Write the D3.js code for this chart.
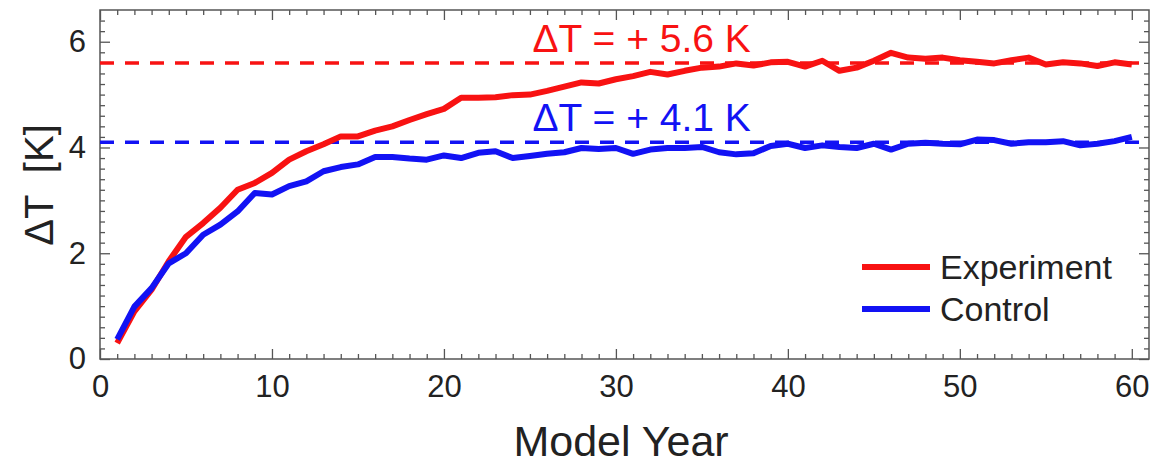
<!DOCTYPE html>
<html>
<head>
<meta charset="utf-8">
<script src="https://cdn.jsdelivr.net/npm/d3@7"></script>
<style>
  html, body { margin: 0; padding: 0; background: #fff; }
  svg { display: block; font-family: "Liberation Sans", Arial, Helvetica, sans-serif; }
</style>
</head>
<body>
<svg id="chart" width="1168" height="465"></svg>
<script>
// Model years
const years = d3.range(1, 61);

// Global-mean temperature change per year [K]
const experiment = [
  0.30, 0.90, 1.31, 1.85, 2.31, 2.57, 2.86, 3.20, 3.33, 3.52,
  3.77, 3.93, 4.06, 4.21, 4.21, 4.32, 4.40, 4.52, 4.63, 4.73,
  4.94, 4.94, 4.95, 4.99, 5.00, 5.07, 5.15, 5.23, 5.21, 5.29,
  5.35, 5.43, 5.38, 5.45, 5.51, 5.53, 5.59, 5.55, 5.61, 5.62,
  5.53, 5.64, 5.45, 5.51, 5.64, 5.79, 5.70, 5.68, 5.70, 5.65,
  5.62, 5.59, 5.65, 5.70, 5.57, 5.61, 5.59, 5.54, 5.61, 5.57
];
const control = [
  0.37, 0.99, 1.34, 1.81, 2.00, 2.35, 2.54, 2.79, 3.14, 3.11,
  3.27, 3.36, 3.55, 3.63, 3.68, 3.82, 3.82, 3.79, 3.77, 3.85,
  3.80, 3.90, 3.93, 3.80, 3.84, 3.88, 3.91, 3.99, 3.97, 3.99,
  3.88, 3.96, 3.99, 3.99, 4.01, 3.91, 3.87, 3.89, 4.03, 4.07,
  3.99, 4.04, 4.01, 3.99, 4.07, 3.96, 4.07, 4.09, 4.07, 4.06,
  4.15, 4.14, 4.07, 4.10, 4.10, 4.12, 4.04, 4.07, 4.12, 4.20
];

// Equilibrium warming levels shown as dashed lines
const seriesNames = ["Experiment", "Control"];
const equilibrium = [5.6, 4.1];

// Axis ticks
const xTicks = [0, 10, 20, 30, 40, 50, 60];
const yTicks = [0, 2, 4, 6];
const xLimits = [0, 61];
const yLimits = [0, 6.6];

const colors = ["#f81212", "#1212f4"];
const axisColor = "#555";
const textColor = "#222";

const W = 1168, H = 465;
const margin = { top: 10, right: 19, bottom: 106, left: 100 };
const iw = W - margin.left - margin.right;
const ih = H - margin.top - margin.bottom;

const svg = d3.select("#chart");
const g = svg.append("g").attr("transform", `translate(${margin.left},${margin.top})`);

const x = d3.scaleLinear().domain(xLimits).range([0, iw]);
const y = d3.scaleLinear().domain(yLimits).range([ih, 0]);

const xMinor = d3.range(1, 61).filter(v => v % 10 !== 0);
const yMinor = d3.range(1, 33).map(i => +(i * 0.2).toFixed(1)).filter(v => Math.abs(v / 2 - Math.round(v / 2)) > 1e-6);

function styleAxis(sel) {
  sel.select(".domain").remove();
  sel.selectAll(".tick line").attr("stroke", axisColor).attr("stroke-width", 1.3);
  sel.selectAll(".tick text").attr("fill", textColor).style("font-size", "31px");
}

// Bottom axis (labelled) and minor ticks, all pointing inward
g.append("g").attr("transform", `translate(0,${ih})`)
  .call(d3.axisBottom(x).tickValues(xTicks).tickSize(-10).tickPadding(16).tickFormat(d3.format("d")))
  .call(styleAxis);
g.append("g").attr("transform", `translate(0,${ih})`)
  .call(d3.axisBottom(x).tickValues(xMinor).tickSize(-5).tickFormat(""))
  .call(styleAxis);
// Top mirrored ticks
g.append("g")
  .call(d3.axisTop(x).tickValues(xTicks).tickSize(-10).tickFormat(""))
  .call(styleAxis);
g.append("g")
  .call(d3.axisTop(x).tickValues(xMinor).tickSize(-5).tickFormat(""))
  .call(styleAxis);

// Left axis (labelled) and minor ticks
g.append("g")
  .call(d3.axisLeft(y).tickValues(yTicks).tickSize(-10).tickPadding(14).tickFormat(d3.format("d")))
  .call(styleAxis);
g.append("g")
  .call(d3.axisLeft(y).tickValues(yMinor).tickSize(-5).tickFormat(""))
  .call(styleAxis);
// Right mirrored ticks
g.append("g").attr("transform", `translate(${iw},0)`)
  .call(d3.axisRight(y).tickValues(yTicks).tickSize(-10).tickFormat(""))
  .call(styleAxis);
g.append("g").attr("transform", `translate(${iw},0)`)
  .call(d3.axisRight(y).tickValues(yMinor).tickSize(-5).tickFormat(""))
  .call(styleAxis);

// Plot frame
g.append("rect")
  .attr("x", 0).attr("y", 0).attr("width", iw).attr("height", ih)
  .attr("fill", "none").attr("stroke", axisColor).attr("stroke-width", 1.5);

const plot = g.append("g");

// Dashed equilibrium lines
plot.selectAll("line.eq")
  .data(equilibrium)
  .join("line")
  .attr("class", "eq")
  .attr("x1", x(xLimits[0])).attr("x2", x(xLimits[1]))
  .attr("y1", d => y(d)).attr("y2", d => y(d))
  .attr("stroke", (d, i) => colors[i])
  .attr("stroke-width", 3.5)
  .attr("stroke-dasharray", "14,11");

// Time series
const line = d3.line().x((d, i) => x(years[i])).y(d => y(d));
[experiment, control].forEach((series, i) => {
  plot.append("path")
    .datum(series)
    .attr("d", line)
    .attr("fill", "none")
    .attr("stroke", colors[i])
    .attr("stroke-width", 6)
    .attr("stroke-linejoin", "round");
});

// Annotations for equilibrium values
const annX = x(31.5);
equilibrium.forEach((v, i) => {
  g.append("text")
    .attr("x", annX)
    .attr("y", y(v) - 11)
    .attr("text-anchor", "middle")
    .attr("fill", colors[i])
    .style("font-size", "39px")
    .text(`ΔT = + ${v.toFixed(1)} K`);
});

// Legend
const legend = g.append("g").attr("transform", `translate(${862 - margin.left},${267 - margin.top})`);
seriesNames.forEach((name, i) => {
  const row = legend.append("g").attr("transform", `translate(0,${i * 42})`);
  row.append("line")
    .attr("x1", 0).attr("x2", 68)
    .attr("y1", 0).attr("y2", 0)
    .attr("stroke", colors[i]).attr("stroke-width", 6);
  row.append("text")
    .attr("x", 78).attr("y", 0).attr("dy", "0.35em")
    .attr("fill", textColor)
    .style("font-size", "34px")
    .text(name);
});

// Axis titles
svg.append("text")
  .attr("x", margin.left + x(30.3))
  .attr("y", 456)
  .attr("text-anchor", "middle")
  .attr("fill", textColor)
  .style("font-size", "43px")
  .text("Model Year");

svg.append("text")
  .attr("transform", `translate(53,${185}) rotate(-90)`)
  .attr("text-anchor", "middle")
  .attr("fill", textColor)
  .style("font-size", "40px")
  .style("white-space", "pre")
  .attr("xml:space", "preserve")
  .text("ΔT  [K]");
</script>
</body>
</html>
